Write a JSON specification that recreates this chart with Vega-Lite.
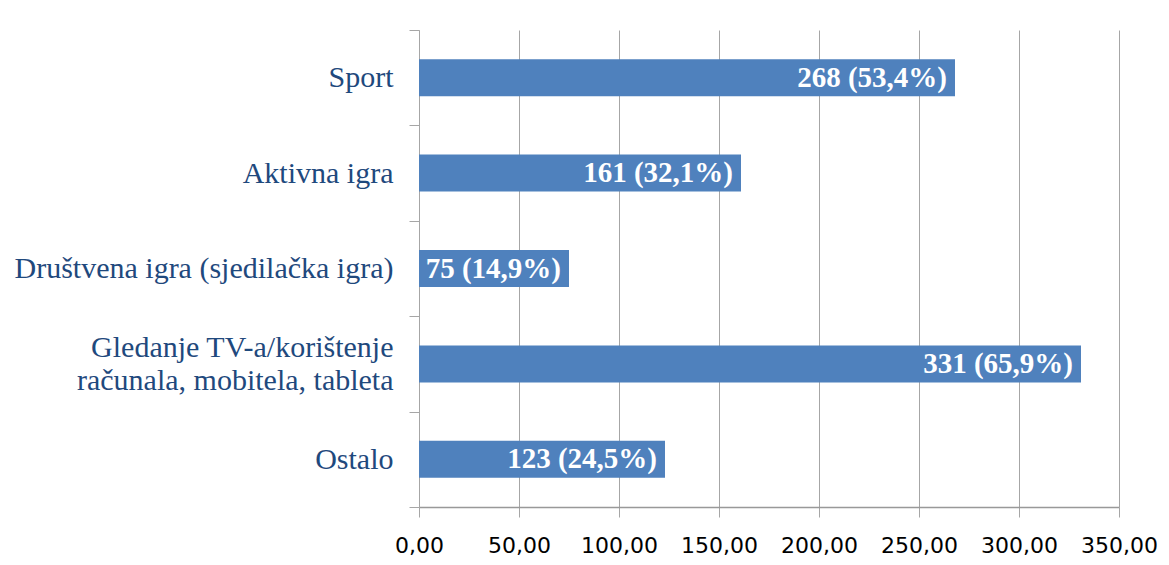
{
  "$schema": "https://vega.github.io/schema/vega-lite/v6.json",
  "autosize": {"type": "none"},
  "width": 700,
  "height": 477,
  "padding": {"left": 419, "top": 30, "right": 50, "bottom": 58},
  "background": "white",
  "config": {"view": {"stroke": null}},
  "data": {
    "values": [
      {"kategorija": "Sport", "broj": 268, "oznaka": "268 (53,4%)"},
      {"kategorija": "Aktivna igra", "broj": 161, "oznaka": "161 (32,1%)"},
      {"kategorija": "Društvena igra (sjedilačka igra)", "broj": 75, "oznaka": "75 (14,9%)"},
      {"kategorija": "Gledanje TV-a/korištenje |računala, mobitela, tableta", "broj": 331, "oznaka": "331 (65,9%)"},
      {"kategorija": "Ostalo", "broj": 123, "oznaka": "123 (24,5%)"}
    ]
  },
  "encoding": {
    "y": {
      "field": "kategorija",
      "type": "nominal",
      "sort": null,
      "scale": {"paddingInner": 0, "paddingOuter": 0},
      "axis": {
        "title": null,
        "labelExpr": "split(datum.label, '|')",
        "labelFont": "Liberation Serif",
        "labelFontSize": 30,
        "labelColor": "#1F497D",
        "labelLineHeight": 33,
        "labelPadding": 16,
        "labelLimit": 0,
        "labelOffset": {"condition": {"test": "datum.value === 'Gledanje TV-a/korištenje |računala, mobitela, tableta'", "value": -16}, "value": 0},
        "tickBand": "extent",
        "tickSize": 10,
        "tickColor": "#A6A6A6",
        "domainColor": "#A6A6A6",
        "grid": false
      }
    }
  },
  "layer": [
    {
      "mark": {"type": "bar", "color": "#4F81BD", "size": 37},
      "encoding": {
        "x": {
          "field": "broj",
          "type": "quantitative",
          "scale": {"domain": [0, 350], "nice": false},
          "axis": {
            "title": null,
            "values": [0, 50, 100, 150, 200, 250, 300, 350],
            "labelExpr": "replace(format(datum.value, '.2f'), '.', ',')",
            "labelOverlap": false,
            "labelFont": "DejaVu Sans",
            "labelFontSize": 22,
            "labelColor": "#000000",
            "labelPadding": 18,
            "labelFlush": false,
            "tickSize": 10,
            "tickColor": "#A6A6A6",
            "domain": true,
            "domainColor": "#999999",
            "domainWidth": 1.5,
            "grid": true,
            "gridColor": "#A6A6A6"
          }
        }
      }
    },
    {
      "mark": {
        "type": "text",
        "align": "right",
        "baseline": "middle",
        "dx": -8,
        "font": "Liberation Serif",
        "fontWeight": "bold",
        "fontSize": 29,
        "color": "#FFFFFF"
      },
      "encoding": {
        "x": {"field": "broj", "type": "quantitative"},
        "text": {"field": "oznaka"}
      }
    }
  ]
}
